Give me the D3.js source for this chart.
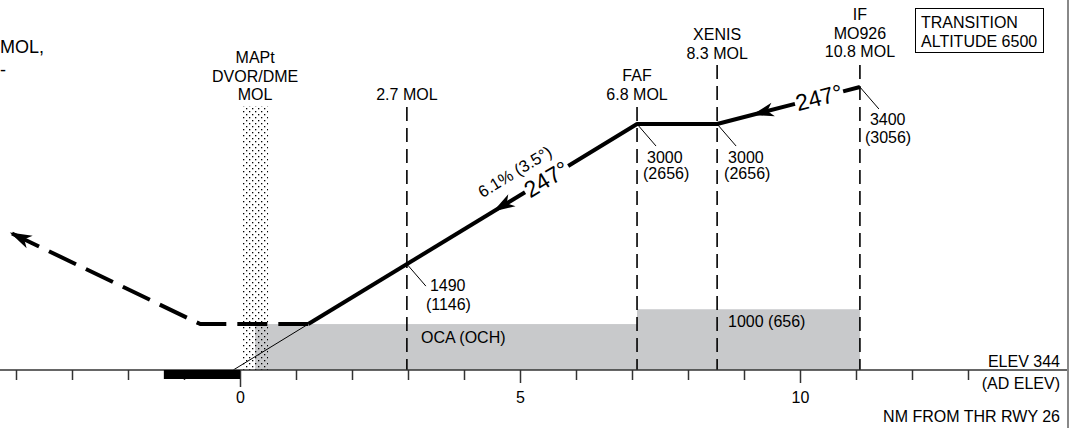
<!DOCTYPE html>
<html>
<head>
<meta charset="utf-8">
<script src="https://cdn.jsdelivr.net/npm/d3@7"></script>
<style>
  body { margin: 0; background: #fff; }
  svg text { font-family: "Liberation Sans", Arial, sans-serif; fill: #000; }
</style>
</head>
<body>
<div id="chart"></div>
<script>
// fixes along the profile (NM from threshold)
const fixNames = [['MAPt', 'DVOR/DME', 'MOL'], ['2.7 MOL'], ['FAF', '6.8 MOL'], ['XENIS', '8.3 MOL'], ['IF', 'MO926', '10.8 MOL']]
const fixNm = [0.27, 2.98, 7.09, 8.52, 11.07]

// descent profile
const profileNm = [1.22, 7.09, 8.52, 11.07]
const profileAlt = [840, 3000, 3000, 3400]
const groundNm = -0.12
const elev = 344

// altitude callouts at the fixes
const altFixNm = [2.98, 7.09, 8.52, 11.07]
const altLabels = [['1490', '(1146)'], ['3000', '(2656)'], ['3000', '(2656)'], ['3400', '(3056)']]

// missed approach
const missedNm = [1.22, -0.71, -4.11]
const missedAlt = [840, 840, 1830]

// obstacle clearance boxes
const ocaFrom = [0.27, 7.09]
const ocaTo = [7.09, 11.07]
const ocaAlt = [840, 1000]
const ocaLabels = ['OCA (OCH)', '1000 (656)']

const runway = [-1.36, 0]
const tickNm = d3.range(-4, 14)
const tickLabelled = [0, 5, 10]

const width = 1077
const height = 428

const svg = d3.select('#chart').append('svg')
  .attr('width', width)
  .attr('height', height)

const x = d3.scaleLinear().domain([0, 10]).range([240, 800])
const y = d3.scaleLinear().domain([elev, 3400]).range([370, 87])

// altitude on the profile at a given distance
function profAlt (nm) {
  if (nm <= profileNm[0]) {
    return d3.scaleLinear().domain([groundNm, profileNm[0]]).range([elev, profileAlt[0]])(nm)
  }
  return d3.scaleLinear().domain(profileNm).range(profileAlt)(nm)
}
const pt = nm => [x(nm), y(profAlt(nm))]

const defs = svg.append('defs')
const pat = defs.append('pattern')
  .attr('id', 'stipple')
  .attr('width', 6).attr('height', 6)
  .attr('patternUnits', 'userSpaceOnUse')
pat.append('rect').attr('x', 0).attr('y', 0).attr('width', 1.3).attr('height', 1.3).attr('fill', '#000')
pat.append('rect').attr('x', 3).attr('y', 3).attr('width', 1.3).attr('height', 1.3).attr('fill', '#000')

// gray OCA areas
svg.selectAll('.oca')
  .data(ocaAlt)
  .join('rect')
  .attr('class', 'oca')
  .attr('x', (d, i) => x(ocaFrom[i]))
  .attr('y', d => y(d))
  .attr('width', (d, i) => x(ocaTo[i]) - x(ocaFrom[i]))
  .attr('height', d => y(elev) - y(d))
  .attr('fill', '#c8c9cb')

svg.selectAll('.oca-label')
  .data(ocaLabels)
  .join('text')
  .attr('x', (d, i) => x(ocaFrom[i]) + [166, 91][i])
  .attr('y', (d, i) => y(ocaAlt[i]) + [19, 18][i])
  .attr('font-size', 16)
  .text(d => d)

// MAPt stippled band
svg.append('rect')
  .attr('x', x(fixNm[0]) - 13)
  .attr('y', 106)
  .attr('width', 26)
  .attr('height', y(elev) - 106)
  .attr('fill', 'url(#stipple)')

// vertical dashed fix lines
const lineTops = [null, 107, 107, 65, 65]
fixNm.forEach((nm, i) => {
  if (lineTops[i] === null) return
  svg.append('line')
    .attr('x1', x(nm)).attr('x2', x(nm))
    .attr('y1', lineTops[i]).attr('y2', y(elev))
    .attr('stroke', '#000')
    .attr('stroke-width', 1.6)
    .attr('stroke-dasharray', '14,7')
})

// fix names
const nameBase = [63, 100, 81, 40, 20]
fixNames.forEach((lines, i) => {
  lines.forEach((t, j) => {
    svg.append('text')
      .attr('x', x(fixNm[i]))
      .attr('y', nameBase[i] + j * 18.5)
      .attr('text-anchor', 'middle')
      .attr('font-size', 16)
      .text(t)
  })
})

// thin extension of glide path to the ground
svg.append('line')
  .attr('x1', x(groundNm)).attr('y1', y(elev))
  .attr('x2', x(profileNm[0])).attr('y2', y(profileAlt[0]))
  .attr('stroke', '#000').attr('stroke-width', 1)

// profile with gaps for the course labels
const line = d3.line()
const segments = [
  [profileNm[0], 5.09],
  [5.86, 7.09, 8.52, 9.91],
  [10.77, 11.07]
]
segments.forEach(seg => {
  svg.append('path')
    .attr('d', line(seg.map(pt)))
    .attr('fill', 'none')
    .attr('stroke', '#000')
    .attr('stroke-width', 4)
    .attr('stroke-linejoin', 'round')
})

// missed approach
const missedPts = missedNm.map((d, i) => [x(d), y(missedAlt[i])])
svg.append('path')
  .attr('d', line(missedPts))
  .attr('fill', 'none')
  .attr('stroke', '#000')
  .attr('stroke-width', 4)
  .attr('stroke-dasharray', '30,11')
  .attr('stroke-linejoin', 'round')

function arrow (tip, from) {
  const ang = Math.atan2(tip[1] - from[1], tip[0] - from[0]) * 180 / Math.PI
  svg.append('path')
    .attr('d', 'M0,0L-22,-7L-16,0L-22,7Z')
    .attr('fill', '#000')
    .attr('transform', 'translate(' + tip[0] + ',' + tip[1] + ') rotate(' + ang + ')')
}
arrow(pt(4.52), pt(5.0))
arrow(pt(9.14), pt(9.6))
arrow(missedPts[2], missedPts[1])

// axis
svg.append('line')
  .attr('x1', 0).attr('x2', 1068)
  .attr('y1', y(elev)).attr('y2', y(elev))
  .attr('stroke', '#333').attr('stroke-width', 1.5)

const xAxis = d3.axisBottom(x)
  .tickValues(tickNm)
  .tickSize(10)
  .tickFormat(d => tickLabelled.includes(d) ? d : '')
const ax = svg.append('g')
  .attr('transform', 'translate(0,' + y(elev) + ')')
  .call(xAxis)
ax.select('.domain').remove()
ax.selectAll('.tick line')
  .attr('stroke', '#333')
  .attr('stroke-width', 1.5)
  .attr('y2', d => d === 0 ? 17 : (tickLabelled.includes(d) ? 13 : 10))
ax.selectAll('.tick text')
  .attr('y', 33).attr('dy', null)
  .attr('font-size', 16)
  .attr('font-family', '"Liberation Sans", Arial, sans-serif')
  .attr('fill', '#000')

// runway bar (on top of the axis ticks)
svg.append('rect')
  .attr('x', x(runway[0]))
  .attr('y', y(elev))
  .attr('width', x(runway[1]) - x(runway[0]))
  .attr('height', 9)
  .attr('fill', '#000')

// course labels
function rotAt (a, b) {
  return Math.atan2(b[1] - a[1], b[0] - a[0]) * 180 / Math.PI
}
const descAng = rotAt(pt(3), pt(6))
const p247 = pt(5.47)
svg.append('text')
  .attr('transform', 'translate(' + p247[0] + ',' + p247[1] + ') rotate(' + descAng + ')')
  .attr('text-anchor', 'middle')
  .attr('dominant-baseline', 'central')
  .attr('font-size', 23)
  .text('247°')
const pGrad = pt(5.12)
const nrm = descAng * Math.PI / 180
svg.append('text')
  .attr('transform', 'translate(' + (pGrad[0] + 23 * Math.sin(nrm)) + ',' + (pGrad[1] - 23 * Math.cos(nrm)) + ') rotate(' + descAng + ')')
  .attr('text-anchor', 'middle')
  .attr('dominant-baseline', 'central')
  .attr('font-size', 16.5)
  .text('6.1% (3.5°)')

const levelAng = rotAt(pt(8.52), pt(11.07))
const p247b = pt(10.34)
svg.append('text')
  .attr('transform', 'translate(' + p247b[0] + ',' + p247b[1] + ') rotate(' + levelAng + ')')
  .attr('text-anchor', 'middle')
  .attr('dominant-baseline', 'central')
  .attr('font-size', 23)
  .text('247°')

// altitude callouts with leader lines
altFixNm.forEach((nm, i) => {
  const p = pt(nm)
  svg.append('line')
    .attr('x1', p[0]).attr('y1', p[1])
    .attr('x2', p[0] + 19).attr('y2', p[1] + 22)
    .attr('stroke', '#000').attr('stroke-width', 1)
  svg.append('text')
    .attr('x', p[0] + [23, 10, 11, 10][i])
    .attr('y', p[1] + [27, 39, 39, 38][i])
    .attr('font-size', 16)
    .text(altLabels[i][0])
  svg.append('text')
    .attr('x', p[0] + [19, 6, 7, 5][i])
    .attr('y', p[1] + [46, 55, 55, 56][i])
    .attr('font-size', 16)
    .text(altLabels[i][1])
})

// transition altitude box
svg.append('rect')
  .attr('x', 915.5).attr('y', 8.5)
  .attr('width', 128).attr('height', 44)
  .attr('fill', 'none').attr('stroke', '#000').attr('stroke-width', 1)
svg.append('text').attr('x', 921).attr('y', 28).attr('font-size', 16).text('TRANSITION')
svg.append('text').attr('x', 921).attr('y', 47).attr('font-size', 16).text('ALTITUDE 6500')

// clipped text at top-left
svg.append('text').attr('x', 0).attr('y', 53).attr('font-size', 18).text('MOL,')
svg.append('text').attr('x', 0).attr('y', 76).attr('font-size', 18).text('-')

// axis notes
svg.append('text').attr('x', 1060).attr('y', 367).attr('font-size', 16).attr('text-anchor', 'end').text('ELEV 344')
svg.append('text').attr('x', 1060).attr('y', 389).attr('font-size', 16).attr('text-anchor', 'end').text('(AD ELEV)')
svg.append('text').attr('x', 1060).attr('y', 422).attr('font-size', 16).attr('text-anchor', 'end').text('NM FROM THR RWY 26')

// frame at right
svg.append('line')
  .attr('x1', 1068).attr('x2', 1068)
  .attr('y1', 0).attr('y2', height)
  .attr('stroke', '#888').attr('stroke-width', 2)
</script>
</body>
</html>
